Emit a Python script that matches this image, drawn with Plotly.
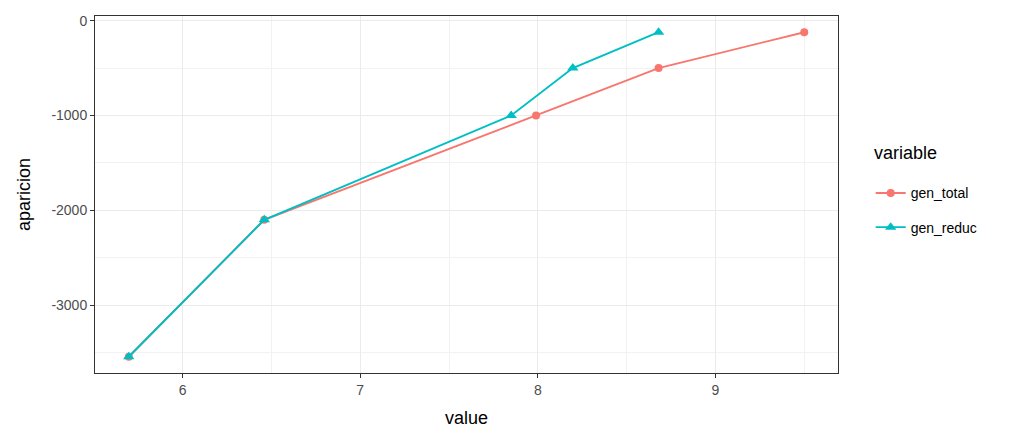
import plotly.graph_objects as go

# values
total_value = [5.697, 6.46, 7.99, 8.68, 9.5]
total_aparicion = [-3545, -2100, -1000, -500, -122]

reduc_value = [5.697, 6.46, 7.85, 8.197, 8.68]
reduc_aparicion = [-3545, -2100, -1000, -500, -122]

x_ticks = [6, 7, 8, 9]
y_ticks = [0, -1000, -2000, -3000]
y_tick_labels = ["0", "-1000", "-2000", "-3000"]

red = "#F8766D"
cyan = "#00BFC4"

fig = go.Figure()
fig.add_trace(go.Scatter(x=total_value, y=total_aparicion, name="gen_total",
                         mode="lines+markers", legendgroup="a",
                         line=dict(color=red, width=1.9),
                         marker=dict(symbol="circle", size=8, color=red)))
fig.add_trace(go.Scatter(x=reduc_value, y=reduc_aparicion, name="gen_reduc",
                         mode="lines+markers", legendgroup="b",
                         line=dict(color=cyan, width=1.9),
                         marker=dict(symbol="triangle-up", size=10, color=cyan)))

axis_common = dict(
    showline=True, linecolor="#333333", linewidth=1, mirror=True,
    ticks="outside", ticklen=4, tickcolor="#333333",
    gridcolor="#EBEBEB", gridwidth=1.3, zeroline=False,
    tickfont=dict(family="Liberation Sans, Arial", size=14, color="#4D4D4D"),
)

fig.update_layout(
    width=1024, height=445,
    margin=dict(l=87, r=194, t=5, b=80),
    paper_bgcolor="white", plot_bgcolor="white",
    font=dict(family="Liberation Sans, Arial", color="black"),
    xaxis=dict(range=[5.507, 9.69], tickvals=x_ticks,
               title=dict(text="value", font=dict(size=18), standoff=14),
               minor=dict(dtick=0.5, tick0=5.5, showgrid=True, gridcolor="#F2F2F2", gridwidth=0.7, ticks=""),
               **axis_common),
    yaxis=dict(range=[-3716, 49], tickvals=y_ticks, ticktext=y_tick_labels,
               title=dict(text="aparicion", font=dict(size=18), standoff=16),
               minor=dict(dtick=500, tick0=0, showgrid=True, gridcolor="#F2F2F2", gridwidth=0.7, ticks=""),
               **axis_common),
    legend=dict(font=dict(size=14), x=1.044, y=0.548, xanchor="left", yanchor="top",
                traceorder="grouped", tracegroupgap=13, itemwidth=30),
)

# legend title placed as its own text so the gap below it matches ggplot
fig.add_annotation(text="variable", xref="paper", yref="paper", x=1.0458, y=0.616,
                   xanchor="left", yanchor="middle", showarrow=False,
                   font=dict(size=18, color="black"))

fig.write_html("out.html")
